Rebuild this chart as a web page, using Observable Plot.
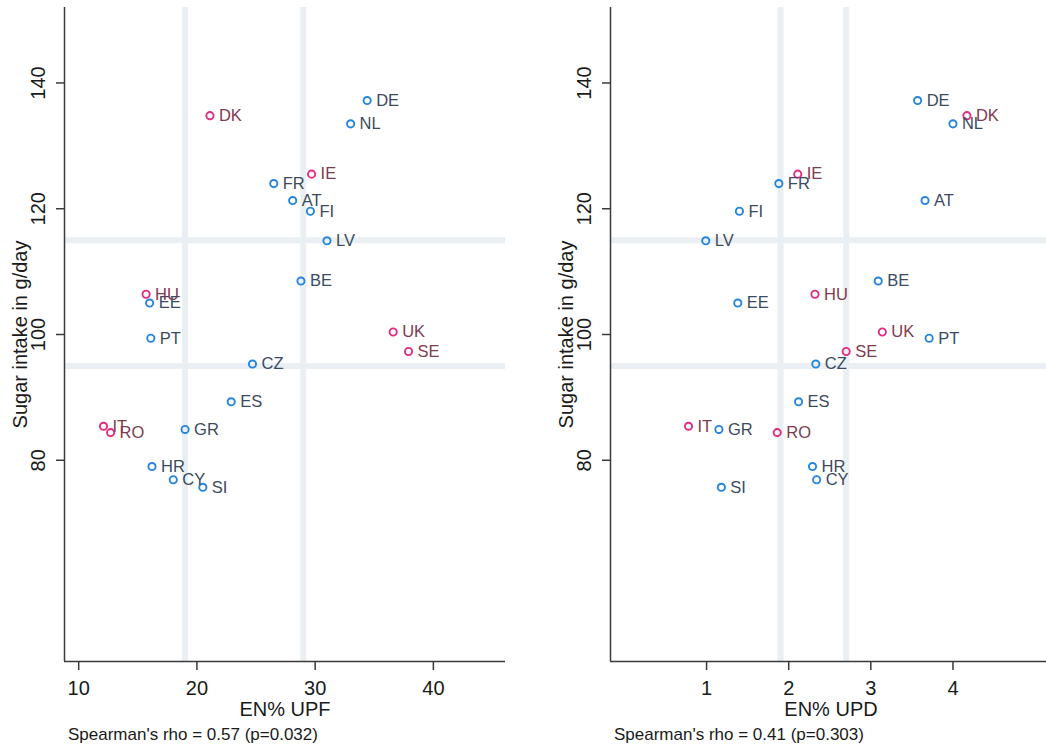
<!DOCTYPE html>
<html>
<head>
<meta charset="utf-8">
<script src="https://cdn.jsdelivr.net/npm/d3@7"></script>
<script src="https://cdn.jsdelivr.net/npm/@observablehq/plot@0.6"></script>
<style>
  html, body { margin: 0; padding: 0; background: #fff; }
  #chart { width: 1046px; height: 751px; overflow: hidden; display: flex; background: #fff; }
  .panel { flex: 0 0 546px; width: 546px; }
  .panel svg { display: block; }
  .caption { font-family: "Liberation Sans", Arial, sans-serif; font-size: 17px; line-height: 20px;
             color: #1a1a1a; padding-left: 68px; margin-top: 7px; white-space: nowrap; }
</style>
</head>
<body>
<div id="chart"></div>
<script>
// Country codes, in the same order as every value array below
const countries = ["AT","BE","CY","CZ","DE","DK","EE","ES","FI","FR","GR","HR","HU","IE","IT","LV","NL","PT","RO","SE","SI","UK"];

// Sugar intake, g/day
const sugar = [121.3,108.5,76.9,95.3,137.2,134.8,105.0,89.3,119.6,124.0,84.9,79.0,106.4,125.5,85.4,114.9,133.5,99.4,84.4,97.3,75.7,100.4];

// Energy share of ultra-processed foods (EN% UPF)
const upf = [28.1,28.8,18.0,24.7,34.4,21.1,16.0,22.9,29.6,26.5,19.0,16.2,15.7,29.7,12.1,31.0,33.0,16.1,12.7,37.9,20.5,36.6];

// Energy share of ultra-processed drinks (EN% UPD)
const upd = [3.66,3.09,2.34,2.33,3.57,4.17,1.38,2.12,1.40,1.88,1.15,2.29,2.32,2.11,0.78,0.99,4.00,3.71,1.86,2.70,1.18,3.14];

// Countries drawn in the second colour
const highlighted = ["DK","HU","IE","IT","RO","SE","UK"];

// Reference lines
const refSugar = [95, 115];
const refUpf = [19, 29];
const refUpd = [1.9, 2.7];

// Tick values
const sugarTicks = [80, 100, 120, 140];
const upfTicks = [10, 20, 30, 40];
const updTicks = [1, 2, 3, 4];

const yTitle = "Sugar intake in g/day";
const FONT = "'Liberation Sans', Arial, sans-serif";
const PINK = "#e62a7f";
const BLUE = "#2585e0";
const PINK_TEXT = "#7d3c4f";
const BLUE_TEXT = "#3b4a5f";
const REF = "#e9eff2";
const AXIS = "#3a3a3a";
const yDomain = [48, 152];
const plain = d => String(d);

function panel({xValues, xDomain, xTicks, refX, xTitle, caption}) {
  const data = countries.map((code, i) => ({code, x: xValues[i], y: sugar[i], hi: highlighted.includes(code)}));
  const svg = Plot.plot({
    width: 546,
    height: 718,
    marginLeft: 64,
    marginRight: 41,
    marginTop: 7,
    marginBottom: 57,
    style: {fontFamily: FONT, fontSize: "20px", color: "#1a1a1a", background: "#fff", overflow: "visible"},
    x: {domain: xDomain},
    y: {domain: yDomain},
    marks: [
      Plot.ruleX(refX, {stroke: REF, strokeWidth: 6}),
      Plot.ruleY(refSugar, {stroke: REF, strokeWidth: 6}),
      Plot.ruleX([xDomain[0]], {stroke: AXIS, strokeWidth: 1.5}),
      Plot.ruleY([yDomain[0]], {stroke: AXIS, strokeWidth: 1.5}),
      Plot.axisX({ticks: xTicks, tickFormat: plain, tickSize: 9, tickPadding: 10, stroke: AXIS, strokeWidth: 1.5, fontSize: 20, label: null}),
      Plot.axisY({ticks: sugarTicks, tickFormat: plain, tickSize: 8, tickPadding: 12, tickRotate: -90, stroke: AXIS, strokeWidth: 1.5, fontSize: 20, label: null}),
      Plot.text([xTitle], {text: d => d, frameAnchor: "bottom", lineAnchor: "middle", textAnchor: "middle", dy: 48, fontSize: 20}),
      Plot.text([yTitle], {text: d => d, frameAnchor: "left", lineAnchor: "middle", textAnchor: "middle", rotate: -90, dx: -44, fontSize: 20}),
      Plot.dot(data, {x: "x", y: "y", r: 3.6, strokeWidth: 1.9, fill: "none", stroke: d => d.hi ? PINK : BLUE}),
      Plot.text(data, {x: "x", y: "y", text: "code", textAnchor: "start", dx: 9, fontSize: 16.5,
                       fill: d => d.hi ? PINK_TEXT : BLUE_TEXT})
    ]
  });
  const wrap = document.createElement("div");
  wrap.className = "panel";
  wrap.append(svg);
  const cap = document.createElement("div");
  cap.className = "caption";
  cap.textContent = caption;
  wrap.append(cap);
  return wrap;
}

const chart = document.getElementById("chart");
chart.append(panel({
  xValues: upf, xDomain: [8.8, 46.1], xTicks: upfTicks, refX: refUpf,
  xTitle: "EN% UPF", caption: "Spearman's rho = 0.57 (p=0.032)"
}));
chart.append(panel({
  xValues: upd, xDomain: [-0.17, 5.2], xTicks: updTicks, refX: refUpd,
  xTitle: "EN% UPD", caption: "Spearman's rho = 0.41 (p=0.303)"
}));
</script>
</body>
</html>
